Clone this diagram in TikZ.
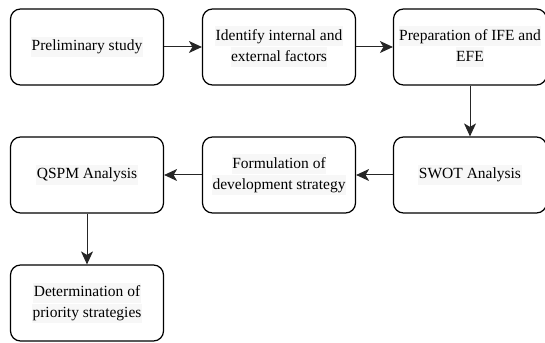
\documentclass[tikz,border=0pt]{standalone}
\usepackage{fontspec}
\setmainfont{Liberation Serif}
\newfontfamily\stepfont{Liberation Serif}
\usetikzlibrary{arrows.meta}

% light grey behind each line of text
\definecolor{hlgray}{HTML}{F7F7F7}
\newcommand{\hl}[1]{{\setlength{\fboxsep}{0.5pt}\colorbox{hlgray}{\strut #1}}}

\begin{document}
\begin{tikzpicture}[x=1pt,y=1pt,
    stepbox/.style={draw, line width=1.2pt, rounded corners=10pt,
      minimum width=153pt, minimum height=76pt, inner sep=0pt,
      align=center, font=\stepfont\fontsize{15.5}{19}\selectfont},
    flow/.style={line width=1pt, black!85, -{Stealth[length=13pt,width=12pt,inset=3.5pt]}}
  ]

  % Fix the size of the page
  \useasboundingbox (0,0) rectangle (545,342);

  % First row, left to right
  \node[stepbox] (prelim) at (87,295) {\hl{Preliminary study}};
  \node[stepbox] (ident) at (279,295) {\hl{Identify internal and}\\\hl{external factors}};
  \node[stepbox] (prep) at (470,295) {\hl{Preparation of IFE and}\\\hl{EFE}};

  % Second row, right to left
  \node[stepbox] (swot) at (470,167) {\hl{SWOT Analysis}};
  \node[stepbox] (formul) at (279,167) {\hl{Formulation of}\\\hl{development strategy}};
  \node[stepbox] (qspm) at (87,167) {\hl{QSPM Analysis}};

  % Last box
  \node[stepbox] (determ) at (87,39) {\hl{Determination of}\\\hl{priority strategies}};

  % Connectors
  \draw[flow] (prelim) -- (ident);
  \draw[flow] (ident) -- (prep);
  \draw[flow] (prep) -- (swot);
  \draw[flow] (swot) -- (formul);
  \draw[flow] (formul) -- (qspm);
  \draw[flow] (qspm) -- (determ);

\end{tikzpicture}
\end{document}
